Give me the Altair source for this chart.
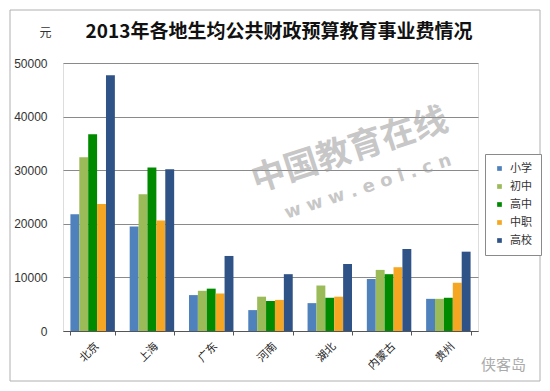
import altair as alt
import pandas as pd

regions = ["北京", "上海", "广东", "河南", "湖北", "内蒙古", "贵州"]
levels = ["小学", "初中", "高中", "中职", "高校"]
colors = ["#4F81BD", "#9BBB59", "#008A00", "#F5A623", "#2F5386"]

xiaoxue = [21800, 19500, 6700, 3900, 5200, 9700, 6000]
chuzhong = [32400, 25500, 7500, 6400, 8500, 11400, 6000]
gaozhong = [36700, 30500, 7900, 5600, 6200, 10600, 6200]
zhongzhi = [23700, 20600, 7000, 5800, 6400, 11900, 9000]
gaoxiao = [47700, 30200, 14000, 10600, 12500, 15300, 14800]

title_text = "2013年各地生均公共财政预算教育事业费情况"

series = [xiaoxue, chuzhong, gaozhong, zhongzhi, gaoxiao]
rows = []
for lev, vals in zip(levels, series):
    for reg, v in zip(regions, vals):
        rows.append({"地区": reg, "类别": lev, "经费": v})
df = pd.DataFrame(rows)

W, H = 415, 268
PL, PT = 55, 55
PR = 534 - PL - W
PB = 375 - PT - H

font = "Noto Sans CJK SC"

bars = alt.Chart(df).mark_bar().encode(
    x=alt.X("地区:N", sort=regions,
            scale=alt.Scale(paddingInner=0.25, paddingOuter=0.125),
            axis=alt.Axis(title=None, labelAngle=-45, tickBand="extent",
                          labelFont=font, labelFontSize=11, labelColor="#222",
                          domainColor="#555", tickColor="#555", tickSize=4,
                          labelPadding=5, grid=False)),
    xOffset=alt.XOffset("类别:N", sort=levels),
    y=alt.Y("经费:Q", scale=alt.Scale(domain=[0, 50000]),
            axis=alt.Axis(values=[0, 10000, 20000, 30000, 40000, 50000],
                          format="d", ticks=False, domain=False,
                          gridColor="#8a8a8a", gridWidth=1,
                          labelFont="Liberation Sans", labelFontSize=12,
                          labelColor="#333", labelPadding=16,
                          title="元", titleAngle=0, titleX=-18, titleY=-31,
                          titleAlign="center", titleBaseline="middle",
                          titleFont=font, titleFontSize=12,
                          titleFontWeight="normal", titleColor="#333")),
    color=alt.Color("类别:N", sort=levels,
                    scale=alt.Scale(domain=levels, range=colors),
                    legend=alt.Legend(title=None, orient="none",
                                      legendX=422, legendY=91,
                                      symbolType="square", symbolSize=22,
                                      labelFont=font, labelFontSize=11,
                                      labelColor="#333", rowPadding=6,
                                      padding=9, strokeColor="#8a8a8a",
                                      fillColor="white", labelOffset=5)),
)

title_df = pd.DataFrame({"t": [title_text]})
title = alt.Chart(title_df).mark_text(
    font=font, fontSize=19, fontWeight="bold", color="#111",
    align="center", baseline="middle"
).encode(text="t:N", x=alt.value(216), y=alt.value(-31))

wm_df = pd.DataFrame({"t": ["中国教育在线"]})
wm1 = alt.Chart(wm_df).mark_text(
    font=font, fontSize=34, fontWeight="bold", color="#9a9a9a",
    opacity=0.55, angle=342, align="center", baseline="middle"
).encode(text="t:N", x=alt.value(287), y=alt.value(88))

wm2_df = pd.DataFrame({"t": ["w w w . e o l . c n"]})
wm2 = alt.Chart(wm2_df).mark_text(
    font="DejaVu Sans", fontSize=18, fontWeight="bold", color="#9a9a9a",
    opacity=0.55, angle=342, align="center", baseline="middle"
).encode(text="t:N", x=alt.value(305), y=alt.value(124))

wm3_df = pd.DataFrame({"t": ["侠客岛"]})
wm3 = alt.Chart(wm3_df).mark_text(
    font=font, fontSize=15, color="#aaaaaa", align="left", baseline="middle"
).encode(text="t:N", x=alt.value(418), y=alt.value(302))

frame = alt.Chart(wm_df).mark_rect(
    fill=None, stroke="#b0b0b0", strokeWidth=1
).encode(x=alt.value(-PL + 2), x2=alt.value(W + PR - 2),
         y=alt.value(-PT + 2), y2=alt.value(H + PB - 2))

chart = alt.layer(bars, title, wm1, wm2, wm3, frame).properties(
    width=W, height=H,
    autosize=alt.AutoSizeParams(type="none"),
    padding={"left": PL, "top": PT, "right": PR, "bottom": PB},
).configure_view(stroke="#8a8a8a", strokeWidth=1).configure(background="white")

chart.save("out.html", embed_options={"renderer": "svg", "actions": False})
